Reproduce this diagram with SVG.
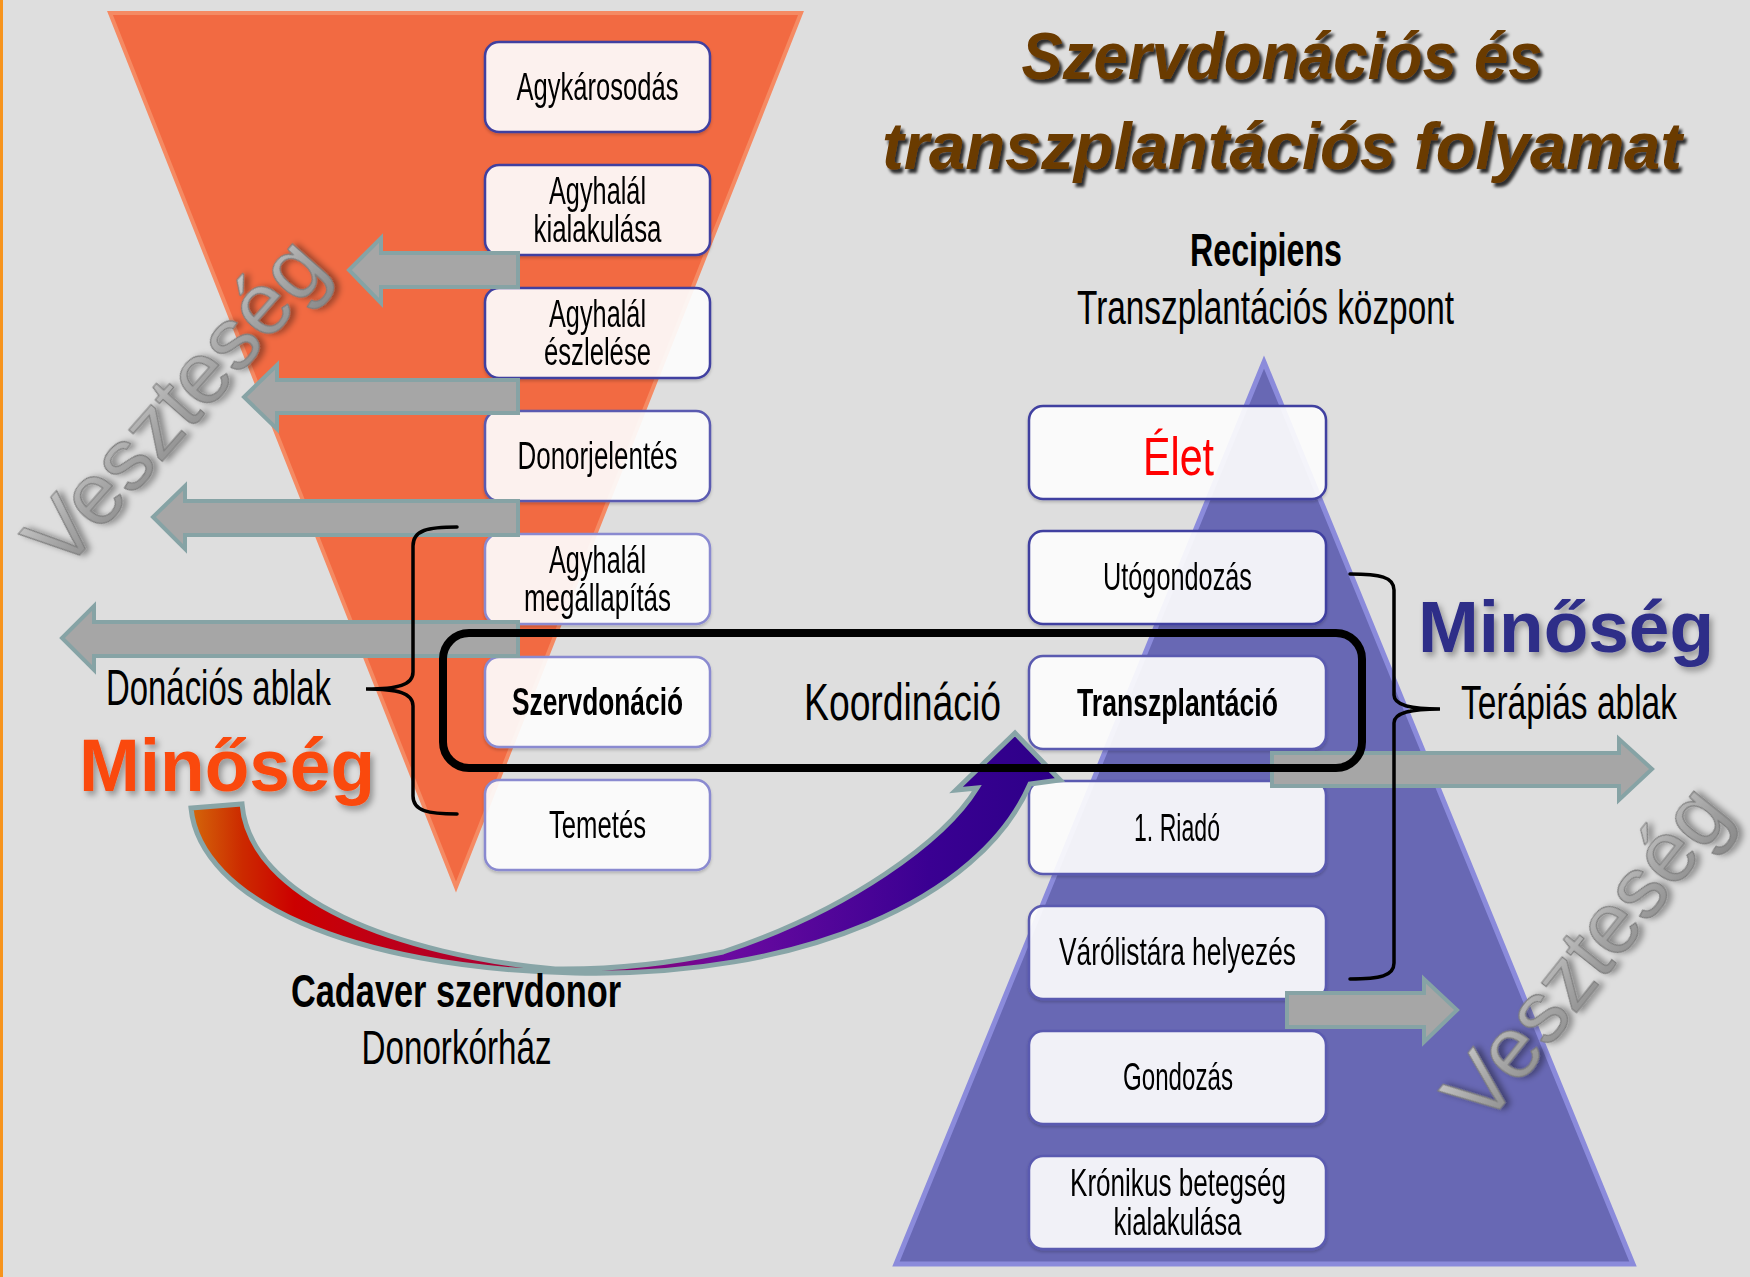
<svg xmlns="http://www.w3.org/2000/svg" width="1750" height="1277" viewBox="0 0 1750 1277">
<defs>
<style>
.bx{fill:#ffffff;fill-opacity:0.9;stroke-width:2.5}
.sd{stroke:#3f3fa0}
.sm{stroke:#5a5ab0}
.sl{stroke:#8a8ad0}
.t{font-family:"Liberation Sans",Arial,sans-serif;font-size:38px;text-anchor:middle;fill:#000}
.b{font-weight:bold}
.lab{font-family:"Liberation Sans",Arial,sans-serif;text-anchor:middle;fill:#000}
.ga{fill:#a6a6a6;stroke:#86a3a5;stroke-width:4;stroke-linejoin:miter}
.br{fill:none;stroke:#000;stroke-width:3.5;stroke-linecap:round}
.vs{font-family:"Liberation Sans",Arial,sans-serif;text-anchor:middle;fill:url(#gVs);stroke:#7d7d7d;stroke-width:1.2}
</style>
<linearGradient id="gCurve" gradientUnits="userSpaceOnUse" x1="190" y1="800" x2="1060" y2="800">
<stop offset="0" stop-color="#d4680a"/>
<stop offset="0.06" stop-color="#cc2a00"/>
<stop offset="0.12" stop-color="#cc0000"/>
<stop offset="0.38" stop-color="#a8003a"/>
<stop offset="0.5" stop-color="#880070"/>
<stop offset="0.62" stop-color="#6a0aa0"/>
<stop offset="0.85" stop-color="#3a0092"/>
<stop offset="1" stop-color="#2c0088"/>
</linearGradient>
<linearGradient id="gVs" x1="0" y1="0" x2="0" y2="1">
<stop offset="0" stop-color="#d0d0d0"/>
<stop offset="0.5" stop-color="#a8a8a8"/>
<stop offset="1" stop-color="#8a8a8a"/>
</linearGradient>
<filter id="fTitle" x="-10%" y="-30%" width="120%" height="160%">
<feDropShadow dx="3" dy="4" stdDeviation="1.8" flood-color="#000" flood-opacity="0.8"/>
</filter>
<filter id="fSoft" x="-10%" y="-30%" width="120%" height="160%">
<feDropShadow dx="3" dy="4" stdDeviation="3" flood-color="#000" flood-opacity="0.35"/>
</filter>
<filter id="fVs" x="-10%" y="-30%" width="120%" height="160%">
<feDropShadow dx="3" dy="4" stdDeviation="3" flood-color="#000" flood-opacity="0.4"/>
</filter>
<filter id="fBox" x="-5%" y="-10%" width="110%" height="125%">
<feDropShadow dx="0" dy="2" stdDeviation="1.5" flood-color="#000" flood-opacity="0.2"/>
</filter>
</defs>

<rect x="0" y="0" width="1750" height="1277" fill="#dedede"/>
<rect x="0" y="0" width="3" height="1277" fill="#f7941d"/>

<g id="tolcser">
<polygon points="110,13 801,13 456,887" fill="#f26a42" stroke="#f58a63" stroke-width="4" stroke-linejoin="miter"/>
</g>
<g id="piramis">
<polygon points="1264,362 1633,1264 896,1264" fill="#6868b4" stroke="#8b8bdb" stroke-width="5" stroke-linejoin="miter"/>
</g>

<g id="cim">
<text x="1282" y="79" font-family="Liberation Sans, Arial, sans-serif" font-size="67" font-weight="bold" font-style="italic" fill="#6b3a00" text-anchor="middle" textLength="521" lengthAdjust="spacingAndGlyphs" filter="url(#fTitle)">Szervdonációs és</text>
<text x="1282" y="169" font-family="Liberation Sans, Arial, sans-serif" font-size="67" font-weight="bold" font-style="italic" fill="#6b3a00" text-anchor="middle" textLength="800" lengthAdjust="spacingAndGlyphs" filter="url(#fTitle)">transzplantációs folyamat</text>
</g>

<g id="vesz-bal">
<text class="vs" transform="translate(197,422) rotate(-48.6)" font-size="88" textLength="405" lengthAdjust="spacingAndGlyphs" filter="url(#fVs)">Veszteség</text>
</g>
<g id="vesz-jobb">
<text class="vs" transform="translate(1609,972) rotate(-51.5)" font-size="88" textLength="400" lengthAdjust="spacingAndGlyphs" filter="url(#fVs)">Veszteség</text>
</g>

<g id="n-agykarosodas" filter="url(#fBox)">
<rect class="bx sd" x="485" y="42" width="225" height="90" rx="14"/>
<text class="t" x="597.5" y="100" textLength="162" lengthAdjust="spacingAndGlyphs">Agykárosodás</text>
</g>
<g id="n-agyhalal-kialakulasa" filter="url(#fBox)">
<rect class="bx sd" x="485" y="165" width="225" height="90" rx="14"/>
<text class="t" x="597.5" y="204" textLength="97" lengthAdjust="spacingAndGlyphs">Agyhalál</text>
<text class="t" x="597.5" y="242" textLength="128" lengthAdjust="spacingAndGlyphs">kialakulása</text>
</g>
<g id="n-agyhalal-eszlelese" filter="url(#fBox)">
<rect class="bx sd" x="485" y="288" width="225" height="90" rx="14"/>
<text class="t" x="597.5" y="327" textLength="97" lengthAdjust="spacingAndGlyphs">Agyhalál</text>
<text class="t" x="597.5" y="365" textLength="107" lengthAdjust="spacingAndGlyphs">észlelése</text>
</g>
<g id="n-donorjelentes" filter="url(#fBox)">
<rect class="bx sm" x="485" y="411" width="225" height="90" rx="14"/>
<text class="t" x="597.5" y="469" textLength="160" lengthAdjust="spacingAndGlyphs">Donorjelentés</text>
</g>
<g id="n-agyhalal-megallapitas" filter="url(#fBox)">
<rect class="bx sl" x="485" y="534" width="225" height="90" rx="14"/>
<text class="t" x="597.5" y="573" textLength="97" lengthAdjust="spacingAndGlyphs">Agyhalál</text>
<text class="t" x="597.5" y="611" textLength="147" lengthAdjust="spacingAndGlyphs">megállapítás</text>
</g>
<g id="n-szervdonacio" filter="url(#fBox)">
<rect class="bx sl" x="485" y="657" width="225" height="90" rx="14"/>
<text class="t b" x="597.5" y="715" textLength="171" lengthAdjust="spacingAndGlyphs">Szervdonáció</text>
</g>
<g id="n-temetes" filter="url(#fBox)">
<rect class="bx sl" x="485" y="780" width="225" height="90" rx="14"/>
<text class="t" x="597.5" y="838" textLength="97" lengthAdjust="spacingAndGlyphs">Temetés</text>
</g>

<g id="n-elet" filter="url(#fBox)">
<rect class="bx sd" x="1029" y="406" width="297" height="93" rx="14"/>
<text class="t" x="1178.5" y="475" style="fill:#ff0000;font-size:53px" textLength="71" lengthAdjust="spacingAndGlyphs">Élet</text>
</g>
<g id="n-utogondozas" filter="url(#fBox)">
<rect class="bx sd" x="1029" y="531" width="297" height="93" rx="14"/>
<text class="t" x="1177.5" y="590" textLength="149" lengthAdjust="spacingAndGlyphs">Utógondozás</text>
</g>
<g id="n-transzplantacio" filter="url(#fBox)">
<rect class="bx sm" x="1029" y="656" width="297" height="93" rx="14"/>
<text class="t b" x="1177.5" y="716" textLength="201" lengthAdjust="spacingAndGlyphs">Transzplantáció</text>
</g>
<g id="n-riado" filter="url(#fBox)">
<rect class="bx sm" x="1029" y="781" width="297" height="93" rx="14"/>
<text class="t" x="1177" y="841" textLength="86" lengthAdjust="spacingAndGlyphs">1. Riadó</text>
</g>
<g id="n-varolista" filter="url(#fBox)">
<rect class="bx sm" x="1029" y="906" width="297" height="93" rx="14"/>
<text class="t" x="1177.5" y="965" textLength="237" lengthAdjust="spacingAndGlyphs">Várólistára helyezés</text>
</g>
<g id="n-gondozas" filter="url(#fBox)">
<rect class="bx sm" x="1029" y="1031" width="297" height="93" rx="14"/>
<text class="t" x="1178" y="1090" textLength="110" lengthAdjust="spacingAndGlyphs">Gondozás</text>
</g>
<g id="n-kronikus" filter="url(#fBox)">
<rect class="bx sm" x="1029" y="1156" width="297" height="93" rx="14"/>
<text class="t" x="1178" y="1196" textLength="216" lengthAdjust="spacingAndGlyphs">Krónikus betegség</text>
<text class="t" x="1177.5" y="1235" textLength="128" lengthAdjust="spacingAndGlyphs">kialakulása</text>
</g>

<g id="connectors">
<polygon class="ga" points="518,253 381,253 381,238 349,270 381,303 381,287 518,287"/>
<polygon class="ga" points="518,380 277,380 277,365 244,397 277,429 277,413 518,413"/>
<polygon class="ga" points="518,501 185,501 185,486 153,517 185,549 185,535 518,535"/>
<polygon class="ga" points="518,622 94,622 94,606 62,638 94,670 94,656 518,656"/>
<polygon class="ga" points="1272,753 1619,753 1619,739 1652,769 1619,800 1619,786 1272,786"/>
<polygon class="ga" points="1287,993 1424,993 1424,979 1457,1010 1424,1042 1424,1027 1287,1027"/>
<path d="M191,808 C200,900 350,968 575,973 C800,978 980,900 1030,784 L1060,780 L1015,733 L956,790 L977,788 C945,840 850,910 723,952 Q640,970 555,969 C400,955 250,900 242,804 Z" fill="url(#gCurve)" stroke="#88a5a7" stroke-width="5" stroke-linejoin="miter"/>
<path class="br" d="M457,527 C428,527 413,530 413,546 L413,672 C413,685 398,689 366,689 C398,689 413,693 413,706 L413,796 C413,811 428,814 457,814"/>
<path class="br" d="M1350,574 C1380,574 1394,577 1394,590 L1394,695 C1394,705 1410,709 1440,709 C1410,709 1394,713 1394,723 L1394,963 C1394,976 1380,979 1350,979"/>
</g>

<g id="koordinacio">
<rect x="443" y="633" width="919" height="135" rx="26" fill="none" stroke="#000" stroke-width="8"/>
<text class="lab" x="902.5" y="720" font-size="52" textLength="197" lengthAdjust="spacingAndGlyphs">Koordináció</text>
</g>

<g id="cimkek">
<text class="lab b" x="1266" y="266" font-size="47" textLength="152" lengthAdjust="spacingAndGlyphs">Recipiens</text>
<text class="lab" x="1265.5" y="324" font-size="49" textLength="377" lengthAdjust="spacingAndGlyphs">Transzplantációs központ</text>
<text class="lab" x="218.5" y="705" font-size="50" textLength="225" lengthAdjust="spacingAndGlyphs">Donációs ablak</text>
<text class="lab" x="1569" y="719" font-size="49" textLength="216" lengthAdjust="spacingAndGlyphs">Terápiás ablak</text>
<text class="lab b" x="456" y="1007" font-size="47" textLength="330" lengthAdjust="spacingAndGlyphs">Cadaver szervdonor</text>
<text class="lab" x="456.5" y="1064" font-size="48" textLength="190" lengthAdjust="spacingAndGlyphs">Donorkórház</text>
<text x="79" y="791" font-family="Liberation Sans, Arial, sans-serif" font-size="74" font-weight="bold" fill="#fa4810" textLength="296" lengthAdjust="spacingAndGlyphs" filter="url(#fSoft)">Minőség</text>
<text x="1418" y="652" font-family="Liberation Sans, Arial, sans-serif" font-size="72" font-weight="bold" fill="#2e2e88" textLength="296" lengthAdjust="spacingAndGlyphs" filter="url(#fSoft)">Minőség</text>
</g>
</svg>
